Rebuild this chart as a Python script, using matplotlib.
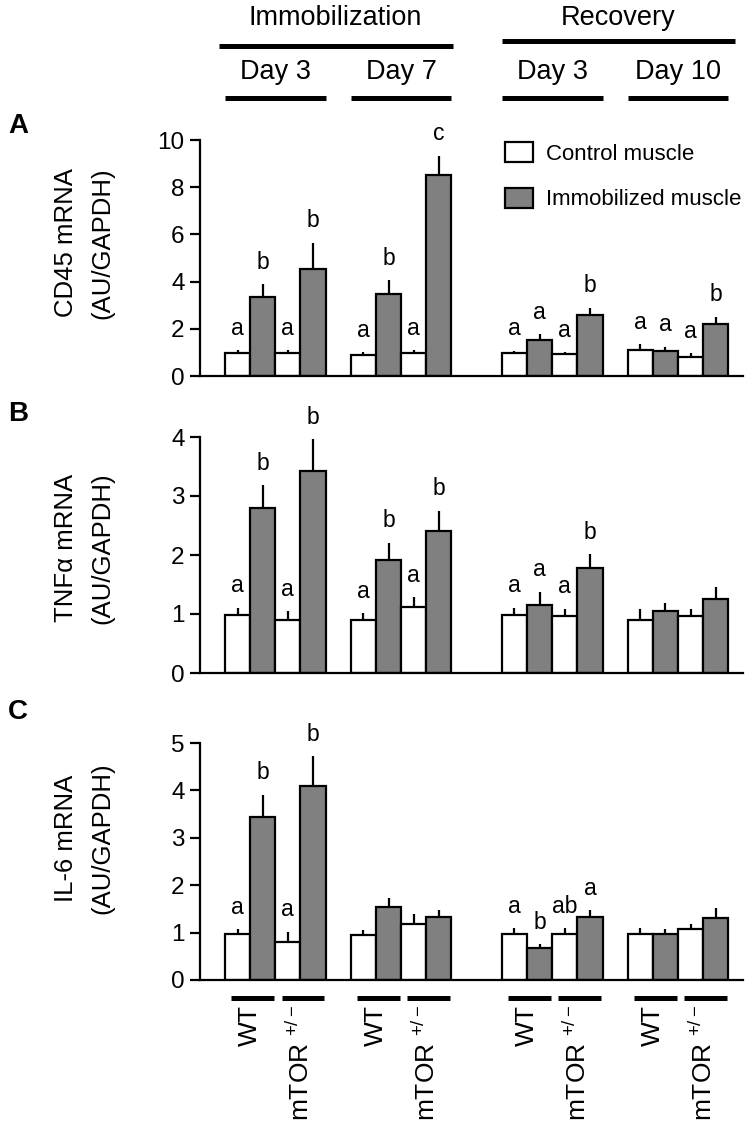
import matplotlib
matplotlib.use("Agg")
import matplotlib.pyplot as plt
from matplotlib.patches import Patch
from matplotlib.transforms import blended_transform_factory

plt.rcParams['font.family'] = ['Liberation Sans', 'DejaVu Sans']
plt.rcParams['mathtext.fontset'] = 'custom'
plt.rcParams['mathtext.rm'] = 'Liberation Sans'
plt.rcParams['mathtext.it'] = 'Liberation Sans:italic'
plt.rcParams['mathtext.bf'] = 'Liberation Sans:bold'

# ---- data (order in each period: WT ctrl, WT immob, mTOR ctrl, mTOR immob) ----
phases = ["Immobilization", "Recovery"]
periods = ["Day 3", "Day 7", "Day 3", "Day 10"]
genotypes = ["WT", "mTOR $^{+/-}$"]
conditions = ["Control muscle", "Immobilized muscle"]

cd45_mean = [0.99, 3.35, 0.96, 4.55, 0.89, 3.47, 0.96, 8.52,
             0.99, 1.53, 0.93, 2.58, 1.10, 1.07, 0.82, 2.20]
cd45_err = [0.11, 0.53, 0.14, 1.10, 0.11, 0.60, 0.14, 0.82,
            0.09, 0.24, 0.09, 0.32, 0.24, 0.17, 0.14, 0.31]
cd45_sig = ['a', 'b', 'a', 'b', 'a', 'b', 'a', 'c',
            'a', 'a', 'a', 'b', 'a', 'a', 'a', 'b']

tnf_mean = [0.99, 2.79, 0.89, 3.42, 0.89, 1.91, 1.12, 2.40,
            0.99, 1.16, 0.97, 1.78, 0.89, 1.05, 0.97, 1.25]
tnf_err = [0.12, 0.40, 0.16, 0.54, 0.12, 0.30, 0.16, 0.35,
           0.12, 0.22, 0.12, 0.24, 0.20, 0.14, 0.12, 0.21]
tnf_sig = ['a', 'b', 'a', 'b', 'a', 'b', 'a', 'b',
           'a', 'a', 'a', 'b', '', '', '', '']

il6_mean = [0.98, 3.43, 0.81, 4.09, 0.95, 1.53, 1.19, 1.33,
            0.98, 0.68, 0.97, 1.33, 0.98, 0.96, 1.07, 1.30]
il6_err = [0.09, 0.48, 0.21, 0.63, 0.10, 0.20, 0.20, 0.14,
           0.12, 0.08, 0.13, 0.14, 0.11, 0.11, 0.12, 0.22]
il6_sig = ['a', 'b', 'a', 'b', '', '', '', '',
           'a', 'b', 'ab', 'a', '', '', '', '']

panels = [
    ("A", "CD45 mRNA", cd45_mean, cd45_err, cd45_sig, 10, 2),
    ("B", "TNFα mRNA", tnf_mean, tnf_err, tnf_sig, 4, 1),
    ("C", "IL-6 mRNA", il6_mean, il6_err, il6_sig, 5, 1),
]

# ---- layout (figure pixels) ----
W, H = 751, 1121
group_starts = [0, 5, 11, 16]
x = [g + i + 0.5 for g in group_starts for i in range(4)]
colors = ['white', '#808080'] * 8
axes_px = [(140, 376), (437, 673), (743, 980)]   # (top, bottom) of each axes
ylabel_center = [243, 548, 838]
letter_y = [126, 414, 712]

fig = plt.figure(figsize=(W / 100, H / 100), dpi=100)

axes = []
for k, (letter, name, mean, err, sig, ymax, step) in enumerate(panels):
    top, bot = axes_px[k]
    ax = fig.add_axes([200 / W, 1 - bot / H, 543 / W, (bot - top) / H])
    axes.append(ax)
    ax.bar(x, mean, width=1.0, color=colors, edgecolor='black', linewidth=1.6, zorder=2)
    ax.errorbar(x, mean, yerr=[[0] * len(err), err], fmt='none', ecolor='black',
                elinewidth=1.6, capsize=0, zorder=3)
    for xi, m, e, s in zip(x, mean, err, sig):
        if s:
            ax.annotate(s, xy=(xi, m + e), xytext=(0, 11), textcoords='offset points',
                        ha='center', va='baseline', fontsize=16.5, annotation_clip=False)
    ax.set_xlim(-0.99, 20.58)
    ax.set_ylim(0, ymax)
    ax.set_yticks(range(0, ymax + 1, step))
    ax.set_xticks([])
    for sp in ['top', 'right']:
        ax.spines[sp].set_visible(False)
    for sp in ['left', 'bottom']:
        ax.spines[sp].set_linewidth(1.6)
    ax.tick_params(axis='y', direction='out', length=7, width=1.6, labelsize=17.5, pad=4)
    ax.patch.set_alpha(0)

    fig.text(18 / W, 1 - letter_y[k] / H, letter, fontsize=20, fontweight='bold',
             ha='center', va='center')
    fig.text(66 / W, 1 - ylabel_center[k] / H, name, rotation=90, fontsize=18.5,
             ha='center', va='center')
    fig.text(102 / W, 1 - ylabel_center[k] / H, "(AU/GAPDH)", rotation=90, fontsize=18.5,
             ha='center', va='center')

# legend in panel A
handles = [Patch(facecolor=c, edgecolor='black', linewidth=1.6) for c in ['white', '#808080']]
axes[0].legend(handles, conditions, loc='upper left', bbox_to_anchor=(505 / W, 1 - 142 / H),
               bbox_transform=fig.transFigure, frameon=False, fontsize=16, borderpad=0,
               borderaxespad=0, handlelength=1.25, handleheight=1.0, handletextpad=0.6,
               labelspacing=1.05)

# header: phases and periods
tr = blended_transform_factory(axes[0].transData, fig.transFigure)
phase_spans = [(group_starts[0] - 0.25, group_starts[1] + 4.05), (group_starts[2], group_starts[3] + 4.25)]
phase_line_y = [46, 41]
for name, (x0, x1), ly in zip(phases, phase_spans, phase_line_y):
    axes[0].plot([x0, x1], [1 - ly / H] * 2, color='black', lw=3.6, transform=tr,
                 clip_on=False, solid_capstyle='butt')
    axes[0].text((x0 + x1) / 2, 1 - 18 / H, name, transform=tr, fontsize=19.5,
                 ha='center', va='center')
for g, name in zip(group_starts, periods):
    axes[0].plot([g, g + 4], [1 - 98 / H] * 2, color='black', lw=3.6, transform=tr,
                 clip_on=False, solid_capstyle='butt')
    axes[0].text(g + 2, 1 - 72 / H, name, transform=tr, fontsize=19.5, ha='center', va='center')

# bottom genotype labels
trc = blended_transform_factory(axes[2].transData, fig.transFigure)
for g in group_starts:
    for j, gname in enumerate(genotypes):
        cx = g + 2 * j + 1
        axes[2].plot([cx - 0.75, cx + 0.95], [1 - 998 / H] * 2, color='black', lw=3.6,
                     transform=trc, clip_on=False, solid_capstyle='butt')
        axes[2].text(cx, 1 - 1005 / H, gname, transform=trc, rotation=90, fontsize=19,
                     ha='center', va='top')

fig.savefig("out.png", dpi=100)
